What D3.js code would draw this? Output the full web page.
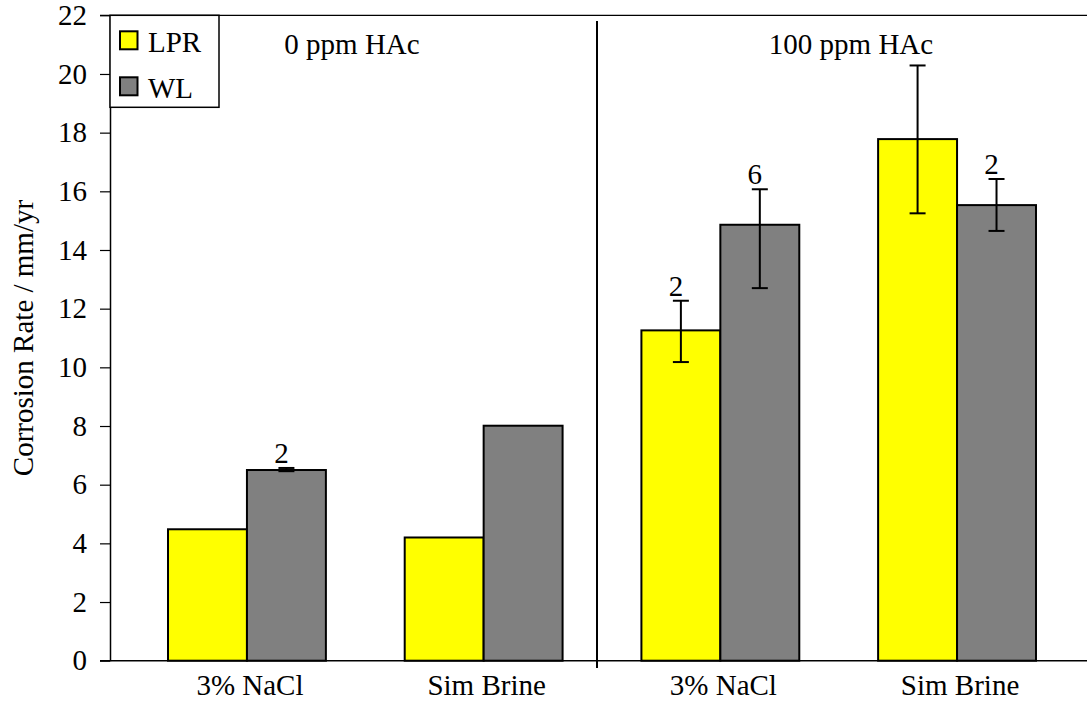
<!DOCTYPE html>
<html>
<head>
<meta charset="utf-8">
<script src="https://cdn.jsdelivr.net/npm/d3@7"></script>
<style>
  html, body { margin: 0; padding: 0; background: #fff; }
  svg { display: block; }
  svg text { font-family: 'Liberation Serif', 'Times New Roman', Times, 'DejaVu Serif', serif !important; fill: #000; }
</style>
</head>
<body>
<svg id="chart" width="1087" height="704"></svg>
<script>
// ---- data ----
const groups = ["0-NaCl", "0-Brine", "100-NaCl", "100-Brine"];
const groupLabels = ["3% NaCl", "Sim Brine", "3% NaCl", "Sim Brine"];
const series = ["LPR", "WL"];
const lprValues = [4.48, 4.20, 11.26, 17.78];
const wlValues = [6.50, 8.01, 14.86, 15.53];
const lprErrLow = [null, null, 10.18, 15.25];
const lprErrHigh = [null, null, 12.27, 20.29];
const wlErrLow = [6.46, null, 12.70, 14.65];
const wlErrHigh = [6.57, null, 16.07, 16.42];
const lprCounts = ["", "", "2", ""];
const wlCounts = ["2", "", "6", "2"];
const sectionLabels = ["0 ppm HAc", "100 ppm HAc"];
const yTicks = [0, 2, 4, 6, 8, 10, 12, 14, 16, 18, 20, 22];
const colors = { LPR: "#ffff00", WL: "#808080" };

// ---- layout ----
const FONT = "'Liberation Serif', 'Times New Roman', Times, 'DejaVu Serif', serif";
const FS = 29;
const svg = d3.select("#chart");
const W = 1087, H = 704;
const pLeft = 110, pTop = 15.3, pBottom = 660.7;

const y = d3.scaleLinear().domain([0, 22]).range([pBottom, pTop]);
const x = d3.scaleBand().domain(groups).range([128.6, 1075.4])
  .paddingInner(0.333).paddingOuter(0.1665);
const xs = d3.scaleBand().domain(series).range([0, x.bandwidth()]);

const rows = groups.map((g, i) => ({
  g, label: groupLabels[i],
  vals: [
    { s: "LPR", v: lprValues[i], lo: lprErrLow[i], hi: lprErrHigh[i], n: lprCounts[i] },
    { s: "WL", v: wlValues[i], lo: wlErrLow[i], hi: wlErrHigh[i], n: wlCounts[i] }
  ]
}));

// top frame line
svg.append("line").attr("x1", 100).attr("x2", W).attr("y1", pTop).attr("y2", pTop)
  .attr("stroke", "#000").attr("stroke-width", 1.2);

// bars
const gG = svg.append("g").selectAll("g").data(rows).join("g")
  .attr("transform", d => `translate(${x(d.g)},0)`);
gG.selectAll("rect").data(d => d.vals).join("rect")
  .attr("x", d => xs(d.s))
  .attr("y", d => y(d.v))
  .attr("width", xs.bandwidth())
  .attr("height", d => y(0) - y(d.v))
  .attr("fill", d => colors[d.s])
  .attr("stroke", "#000").attr("stroke-width", 2);

// error bars
const eb = gG.selectAll("g.err").data(d => d.vals.filter(v => v.hi != null)).join("g")
  .attr("class", "err")
  .attr("transform", d => `translate(${xs(d.s) + xs.bandwidth() / 2},0)`);
eb.append("line").attr("x1", 0).attr("x2", 0)
  .attr("y1", d => y(d.lo)).attr("y2", d => y(d.hi))
  .attr("stroke", "#000").attr("stroke-width", 2);
eb.append("line").attr("x1", -8).attr("x2", 8)
  .attr("y1", d => y(d.hi)).attr("y2", d => y(d.hi))
  .attr("stroke", "#000").attr("stroke-width", 2);
eb.append("line").attr("x1", -8).attr("x2", 8)
  .attr("y1", d => y(d.lo)).attr("y2", d => y(d.lo))
  .attr("stroke", "#000").attr("stroke-width", 2);

// count labels
gG.selectAll("text.cnt").data(d => d.vals.filter(v => v.n)).join("text")
  .attr("class", "cnt")
  .attr("x", d => xs(d.s) + xs.bandwidth() / 2 - 5)
  .attr("y", d => y(d.hi != null ? d.hi : d.v) - 5)
  .attr("text-anchor", "middle")
  .attr("font-size", FS)
  .style("font-family", FONT)
  .text(d => d.n);

// y axis
const yAxis = d3.axisLeft(y).tickValues(yTicks).tickSize(10).tickPadding(13).tickSizeOuter(0);
const ya = svg.append("g").attr("transform", `translate(${pLeft},0)`).call(yAxis)
  .attr("font-family", FONT);
ya.select(".domain").attr("stroke", "#000").attr("stroke-width", 1.5);
ya.selectAll(".tick line").attr("stroke", "#000").attr("stroke-width", 1.2);
ya.selectAll(".tick text").attr("font-size", FS)
  .style("font-family", FONT).attr("fill", "#000");

// bottom axis line
svg.append("line").attr("x1", 100).attr("x2", W).attr("y1", pBottom).attr("y2", pBottom)
  .attr("stroke", "#000").attr("stroke-width", 1.5);

// category labels
svg.append("g").selectAll("text").data(rows).join("text")
  .attr("x", d => x(d.g) + x.bandwidth() / 2 + 3)
  .attr("y", 695)
  .attr("text-anchor", "middle")
  .attr("font-size", FS)
  .style("font-family", FONT)
  .text(d => d.label);

// divider between sections
const divX = (x(groups[1]) + x.bandwidth() + x(groups[2])) / 2 - 5;
svg.append("line").attr("x1", divX).attr("x2", divX).attr("y1", 21).attr("y2", 668)
  .attr("stroke", "#000").attr("stroke-width", 2);

// section labels
svg.append("text").attr("x", 352).attr("y", 54).attr("text-anchor", "middle")
  .attr("font-size", FS).style("font-family", FONT).text(sectionLabels[0]);
svg.append("text").attr("x", 851).attr("y", 54).attr("text-anchor", "middle")
  .attr("font-size", FS).style("font-family", FONT).text(sectionLabels[1]);

// y title
svg.append("text")
  .attr("transform", `translate(33,${(pTop + pBottom) / 2}) rotate(-90)`)
  .attr("text-anchor", "middle")
  .attr("font-size", FS)
  .style("font-family", FONT)
  .text("Corrosion Rate / mm/yr");

// legend
const lg = svg.append("g");
lg.append("rect").attr("x", pLeft).attr("y", pTop).attr("width", 109).attr("height", 92)
  .attr("fill", "#fff").attr("stroke", "#000").attr("stroke-width", 1.5);
const li = lg.selectAll("g.li").data(series).join("g").attr("class", "li")
  .attr("transform", (d, i) => `translate(${pLeft + 10},${pTop + 16 + i * 46})`);
li.append("rect").attr("width", 17.5).attr("height", 18)
  .attr("fill", d => colors[d]).attr("stroke", "#000").attr("stroke-width", 2);
li.append("text").attr("x", 28).attr("y", 20.5).attr("font-size", FS)
  .style("font-family", FONT).text(d => d);
</script>
</body>
</html>
